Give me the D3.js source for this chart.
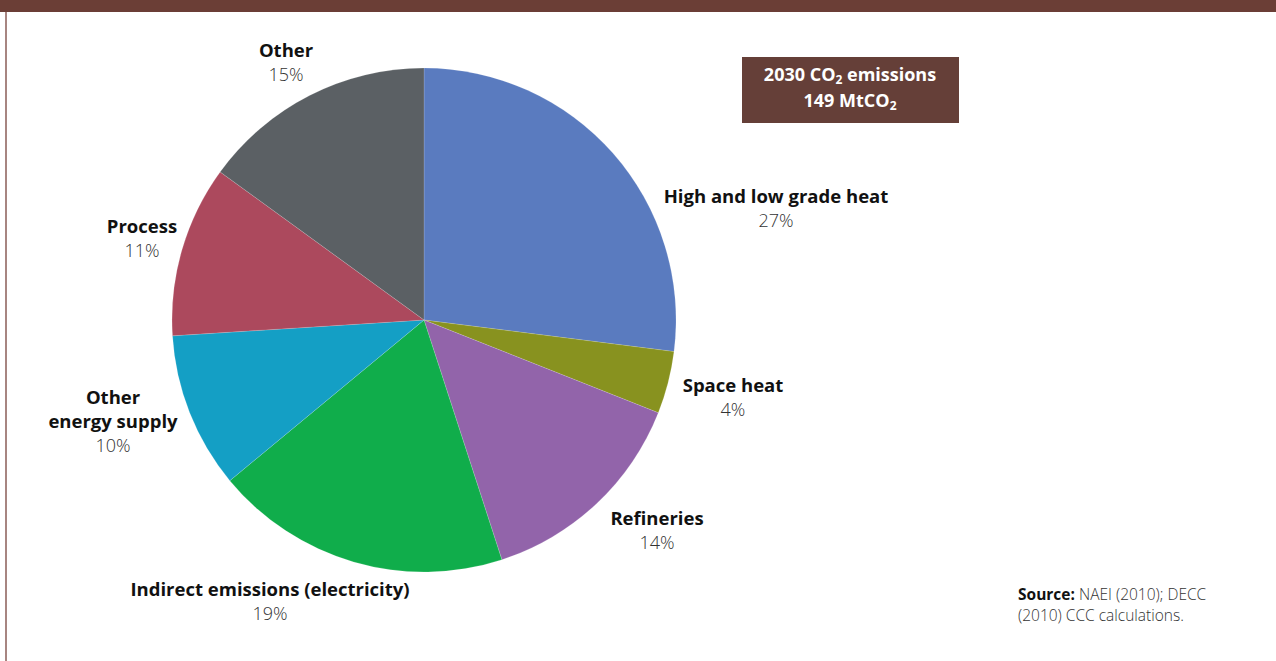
<!DOCTYPE html>
<html>
<head>
<meta charset="utf-8">
<script src="https://cdn.jsdelivr.net/npm/d3@7"></script>
<style>
html,body{margin:0;padding:0;background:#fff;}
svg{display:block;}
text{font-family:"Open Sans",sans-serif;}
</style>
</head>
<body>
<svg id="chart" width="1276" height="661"></svg>
<script>
// ---- data ----
const categories = ["High and low grade heat","Space heat","Refineries","Indirect emissions (electricity)","Other energy supply","Process","Other"];
const titleLines = [["High and low grade heat"],["Space heat"],["Refineries"],["Indirect emissions (electricity)"],["Other","energy supply"],["Process"],["Other"]];
const values = [27,4,14,19,10,11,15];
const colors = ["#5a7bbf","#88921f","#9264aa","#10ad4b","#149fc5","#ac495d","#5b6064"];
const boxLines = ["2030 CO|2| emissions","149 MtCO|2|"];

// label layout: baseline of the first title line for each slice label
const labelAnchors = [[776,203],[733,392],[657,525],[270,596],[113,404],[142,233],[286,57]];

const W=1276,H=661;
const svg=d3.select("#chart");
// frame
svg.append("rect").attr("x",0).attr("y",0).attr("width",W).attr("height",12).attr("fill","#6b3e36");
svg.append("rect").attr("x",5).attr("y",12).attr("width",2).attr("height",H-12).attr("fill","#a78581");

const cx=424,cy=320,R=252;
const pie=d3.pie().sort(null).value(d=>d)(values);
const arc=d3.arc().innerRadius(0).outerRadius(R);
const g=svg.append("g").attr("transform",`translate(${cx},${cy})`);
g.selectAll("path").data(pie).join("path")
 .attr("d",arc).attr("fill",(d,i)=>colors[i])
 .attr("stroke","rgba(255,255,255,0.3)").attr("stroke-width",0.5);

// labels
const lab=svg.append("g");
pie.forEach((d,i)=>{
  const [x,y]=labelAnchors[i];
  const t=lab.append("text").attr("text-anchor","middle");
  titleLines[i].forEach((ln,k)=>{
    t.append("tspan").attr("x",x).attr("y",y+k*24).text(ln)
     .attr("font-weight","700").attr("font-size","18.5px").attr("fill","#111");
  });
  t.append("tspan").attr("x",x).attr("y",y+titleLines[i].length*24).text(values[i]+"%")
   .attr("font-weight","300").attr("font-size","18px").attr("fill","#333");
});

// box
svg.append("rect").attr("x",742).attr("y",57).attr("width",217).attr("height",66).attr("fill","#653f38");
boxLines.forEach((ln,k)=>{
  const t=svg.append("text").attr("x",850).attr("y",81+k*26).attr("text-anchor","middle")
    .attr("fill","#fff").attr("font-weight","700").attr("font-size","18px");
  ln.split("|").forEach((part,j)=>{
    if(!part) return;
    const s=t.append("tspan").text(part);
    if(j%2===1){ s.attr("font-size","12px").attr("dy","3"); }
    else if(j>0){ s.attr("dy","-3"); }
  });
});

// source
const src=svg.append("text").attr("x",1018).attr("y",600).attr("font-size","15.5px").attr("fill","#333");
src.append("tspan").attr("font-weight","700").attr("fill","#111").text("Source:");
src.append("tspan").attr("font-weight","300").text(" NAEI (2010); DECC");
svg.append("text").attr("x",1018).attr("y",621).attr("font-size","15.5px").attr("font-weight","300").attr("fill","#333").text("(2010) CCC calculations.");
</script>
</body>
</html>
